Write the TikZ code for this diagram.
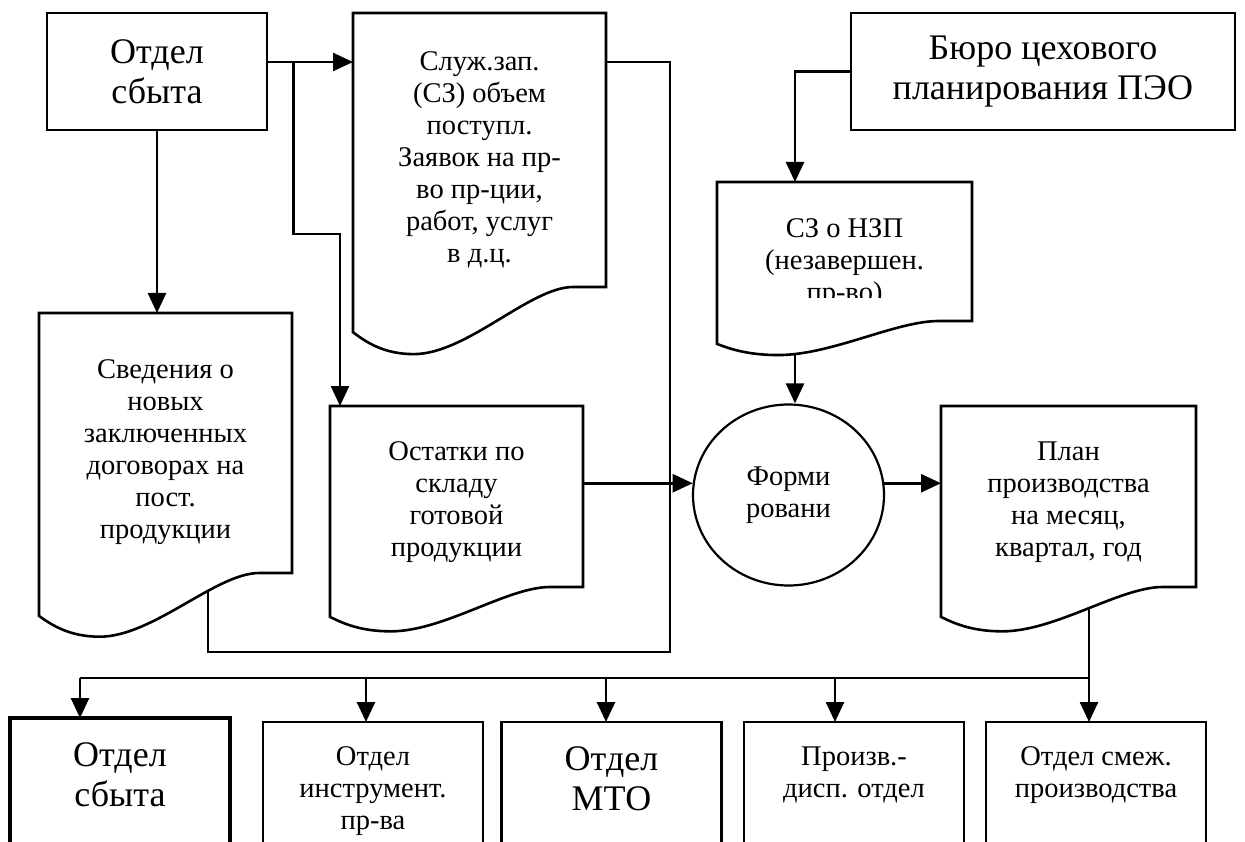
\documentclass[tikz,border=0pt]{standalone}
\usepackage{fontspec}
\setmainfont{Liberation Serif}
\usetikzlibrary{arrows.meta,shapes.geometric,calc,backgrounds}
\newcommand{\bigtxt}{\fontsize{36}{40}\selectfont}
\newcommand{\midtxt}{\fontsize{28.5}{32}\selectfont}

\begin{document}
\begin{tikzpicture}[x=1pt,y=-1pt,line width=2.6pt,>={Triangle[length=20pt,width=18pt]},
  link/.style={line width=2.6pt},
  box/.style={draw,link,inner sep=0pt,align=center,font=\bigtxt},
  docbox/.style={inner sep=0pt,outer sep=0pt},
  doctxt/.style={inner sep=0pt,align=center,font=\midtxt},
  docline/.style={link,fill=white,line join=miter},
  botbox/.style={anchor=north,minimum width=220pt,inner xsep=0pt,inner ysep=25pt,outer sep=0pt,align=center}]
\useasboundingbox (0,0) rectangle (1245,842);
\clip (0,0) rectangle (1245,842);

\node[box,minimum width=220pt,minimum height=117pt] (otdel) at (157,71.5) {Отдел\\сбыта};
\node[box,minimum width=384pt,minimum height=117pt] (buro) at (1043,71.5) {Бюро цехового\\планирования ПЭО};

\node[docbox,minimum width=253pt,minimum height=274pt,
  label={[doctxt,yshift=-10pt]center:{Служ.зап.\\(СЗ) объем\\поступл.\\Заявок на пр-\\во пр-ции,\\работ, услуг\\в д.ц.}}] (sluzh) at (479.5,150) {};
\node[docbox,minimum width=253pt,minimum height=260pt,
  label={[doctxt,yshift=-9pt]center:{Сведения о\\новых\\заключенных\\договорах на\\пост.\\продукции}}] (sved) at (165.5,443) {};
\node[docbox,minimum width=253pt,minimum height=181pt,
  label={[doctxt,yshift=-5.5pt]center:{Остатки по\\складу\\готовой\\продукции}}] (ost) at (456.5,496.5) {};
\begin{scope}
\clip (700,170) rectangle (990,298);
\node[docbox,minimum width=255pt,minimum height=139pt,
  label={[doctxt,yshift=-11.5pt]center:{СЗ о НЗП\\(незавершен.\\пр-во)}}] (szo) at (844.5,251.5) {};
\end{scope}
\node[docbox,minimum width=255pt,minimum height=181pt,
  label={[doctxt,yshift=-5.5pt]center:{План\\производства\\на месяц,\\квартал, год}}] (plan) at (1068.5,496.5) {};

\node[draw,ellipse,line width=2.2pt,minimum width=191pt,minimum height=181pt,inner sep=0pt,align=center,font=\midtxt] (forming) at (788.5,495) {Форми\\ровани};

\node[botbox,font=\bigtxt] (b1) at (120,718) {Отдел\\сбыта};
\node[botbox,font=\midtxt] (b2) at (373,722) {Отдел\\инструмент.\\пр-ва};
\node[botbox,font=\bigtxt] (b3) at (611.5,722) {Отдел\\МТО};
\node[botbox,font=\midtxt] (b4) at (854,722) {Произв.-\\дисп. отдел};
\node[botbox,font=\midtxt] (b5) at (1096,722) {Отдел смеж.\\производства};

\coordinate (toprow) at ([yshift=9.5pt]otdel.east);
\coordinate (bus) at (1089,678);
\coordinate (floor) at (0,860);

\begin{scope}[on background layer]
\draw[link,->] (toprow) -- (toprow -| sluzh.west);
\draw[link,->] (toprow) ++(25,0) -- ++(0,172) -| ([xshift=10pt]ost.north west);
\draw[link,->] (otdel.south) -- (otdel.south |- sved.north);
\draw[link] (toprow -| sluzh.east) -- ++(64,0) -- ++(0,590) -| ([xshift=42.5pt]sved.south);
\draw[link,->] (buro.west) -| ([xshift=-49.5pt]szo.north);
\draw[link,->] ([xshift=-49.5pt]szo.south) -- ([xshift=-49.5pt]szo.south |- forming.north);
\draw[link,->] (forming.173 -| ost.east) -- (forming.173);
\draw[link,->] (forming.7) -- (forming.7 -| plan.west);
\draw[link] (plan.south -| bus) -- (bus) -- ([xshift=-40pt]b1.north |- bus);
\foreach \b/\dx in {b1/-40,b2/-7,b3/-5.5,b4/-19,b5/-7}
  \draw[link,->] ([xshift=\dx pt]\b.north |- bus) -- ([xshift=\dx pt]\b.north);

\foreach \doc in {sluzh,sved,ost,szo,plan}
  \draw[docline] let \p1=(\doc.north west), \p2=(\doc.south east), \n1={\x2-\x1}, \n2={\y1-\y2} in
    (\x1,{\y2-0.165*\n2}) -- (\x1,\y1) -- (\x2,\y1) -- (\x2,\y2) -- ({\x2-0.13*\n1},\y2)
    .. controls ({\x2-0.3*\n1},\y2) and ({\x1+0.45*\n1},{\y2-0.245*\n2}) .. ({\x1+0.24*\n1},{\y2-0.245*\n2})
    .. controls ({\x1+0.12*\n1},{\y2-0.245*\n2}) and ({\x1+0.05*\n1},{\y2-0.2*\n2}) .. (\x1,{\y2-0.165*\n2}) -- cycle;
\end{scope}

\foreach \b/\lw in {b1/4,b2/2.6,b3/2.6,b4/2.6,b5/2.6}
  \draw[line width=\lw pt] (\b.north west |- floor) -- (\b.north west) -- (\b.north east) -- (\b.north east |- floor);
\end{tikzpicture}
\end{document}
